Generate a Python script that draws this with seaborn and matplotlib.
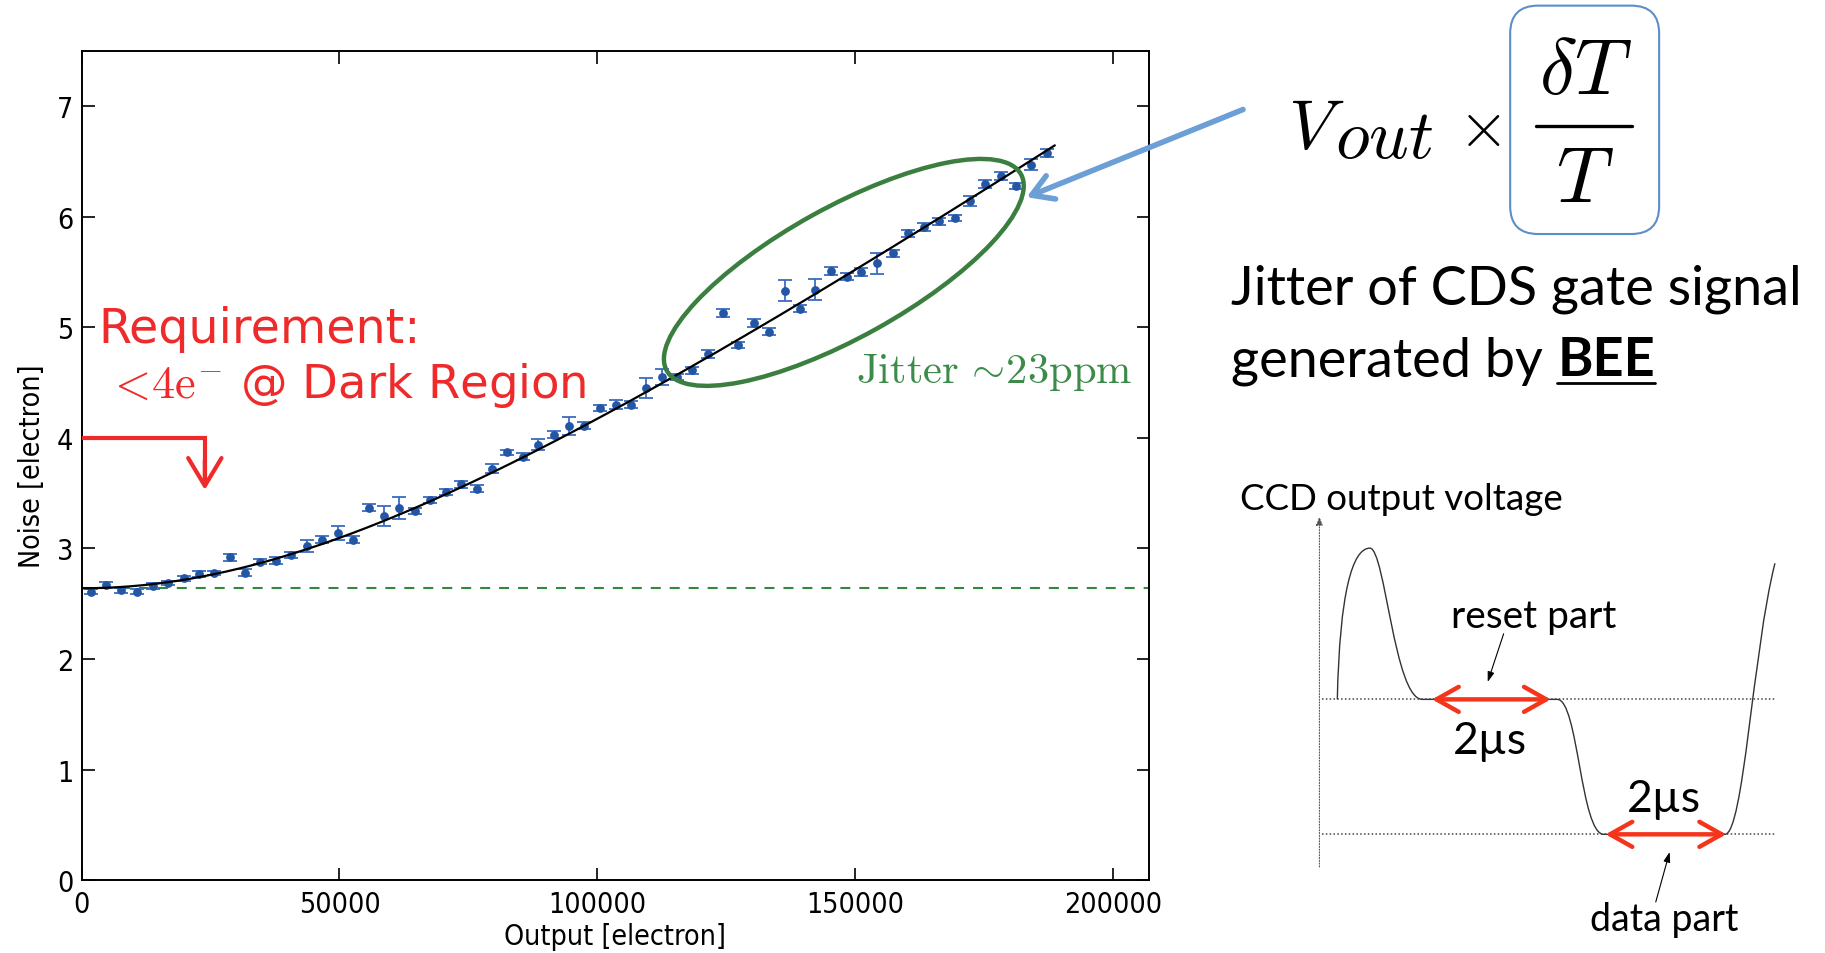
import numpy as np
import pandas as pd
import matplotlib
matplotlib.use("Agg")
import matplotlib.pyplot as plt
import seaborn as sns
from matplotlib.patches import Ellipse, FancyBboxPatch, PathPatch
from matplotlib.path import Path
from matplotlib.font_manager import FontProperties

# ---------------- data ----------------
output_e = [1785, 4770, 7730, 10710, 13760, 16750, 19780, 22760, 25670, 28770,
            31750, 34670, 37650, 40630, 43730, 46710, 49700, 52660, 55640, 58620,
            61590, 64640, 67550, 70650, 73500, 76610, 79600, 82560, 85540, 88500,
            91510, 94520, 97430, 100480, 103530, 106500, 109470, 112520, 115500, 118320,
            121400, 124270, 127270, 130330, 133300, 136350, 139320, 142230, 145340, 148390,
            151170, 154270, 157320, 160230, 163270, 166180, 169290, 172200, 175110, 178210,
            181260, 184170, 187280]
noise_e = [2.61, 2.67, 2.62, 2.61, 2.66, 2.69, 2.73, 2.77, 2.78, 2.92,
           2.78, 2.88, 2.89, 2.94, 3.02, 3.08, 3.14, 3.08, 3.37, 3.29,
           3.37, 3.34, 3.44, 3.51, 3.58, 3.54, 3.72, 3.87, 3.83, 3.94,
           4.03, 4.11, 4.11, 4.27, 4.30, 4.30, 4.45, 4.55, 4.55, 4.61,
           4.76, 5.13, 4.84, 5.04, 4.96, 5.33, 5.17, 5.34, 5.51, 5.46,
           5.50, 5.58, 5.67, 5.85, 5.91, 5.96, 5.99, 6.14, 6.30, 6.37,
           6.28, 6.47, 6.58]
noise_err = [0.025, 0.025, 0.02, 0.025, 0.025, 0.02, 0.02, 0.025, 0.02, 0.03,
             0.03, 0.025, 0.03, 0.025, 0.055, 0.03, 0.065, 0.03, 0.03, 0.09,
             0.10, 0.03, 0.025, 0.03, 0.03, 0.03, 0.04, 0.025, 0.03, 0.05,
             0.03, 0.08, 0.03, 0.03, 0.04, 0.03, 0.09, 0.075, 0.03, 0.03,
             0.035, 0.035, 0.03, 0.04, 0.03, 0.095, 0.03, 0.095, 0.04, 0.03,
             0.035, 0.095, 0.03, 0.035, 0.035, 0.03, 0.03, 0.045, 0.035, 0.035,
             0.03, 0.05, 0.035]
x_ticks = [0, 50000, 100000, 150000, 200000]
x_tick_labels = ["0", "50000", "100000", "150000", "200000"]
y_ticks = [0, 1, 2, 3, 4, 5, 6, 7]
y_tick_labels = ["0", "1", "2", "3", "4", "5", "6", "7"]
noise_floor = 2.64
requirement_level = 4.0
requirement_arrow_x = 23900
requirement_arrow_end = 3.53
fit_x_end = 188700

BLUE = "#2456a6"
EBLUE = "#3a6cc0"
GREEN_E = "#3a7f3f"
GREEN_T = "#3d8b4a"
GREEN_D = "#2f8a3c"
RED = "#ee2a2a"
ARROW_RED = "#f5341c"
LBLUE = "#6b9fd5"

# ---------------- style ----------------
sns.set_theme(style="ticks", rc={
    "axes.edgecolor": "black", "xtick.color": "black", "ytick.color": "black",
    "axes.labelcolor": "black", "text.color": "black",
})
plt.rcParams["font.family"] = ["DejaVu Sans"]
plt.rcParams["mathtext.fontset"] = "cm"

fp_axis = FontProperties(family="DejaVu Sans", stretch="condensed", size=20.5)

fig = plt.figure(figsize=(18.25, 9.54), dpi=100)
ax = fig.add_axes([0.0447, 0.0764, 0.5850, 0.8691])

df = pd.DataFrame({"output": output_e, "noise": noise_e, "err": noise_err})

ax.errorbar(df["output"], df["noise"], yerr=df["err"], fmt="none", ecolor=EBLUE,
            elinewidth=1.3, capsize=5, capthick=1.3, zorder=3)
sns.scatterplot(data=df, x="output", y="noise", ax=ax, color=BLUE, s=40,
                edgecolor=BLUE, linewidth=0, zorder=4, legend=False)

# fit: noise^2 = floor^2 + b * output^2 (least squares for b on the data)
X = np.asarray(output_e, float)
Y = np.asarray(noise_e, float)
b_fit = np.sum((Y ** 2 - noise_floor ** 2) * X ** 2) / np.sum(X ** 4)
xf = np.linspace(0, fit_x_end, 400)
yf = np.sqrt(noise_floor ** 2 + b_fit * xf ** 2)
sns.lineplot(x=xf, y=yf, ax=ax, color="black", linewidth=1.6, zorder=5)

ax.axhline(noise_floor, color=GREEN_D, linewidth=1.5, linestyle=(0, (4.8, 4.3)), zorder=2)

# requirement arrow
ax.plot([0, requirement_arrow_x, requirement_arrow_x],
        [requirement_level, requirement_level, requirement_arrow_end + 0.05],
        color=RED, linewidth=3, solid_joinstyle="miter", solid_capstyle="butt", zorder=6)
ax.annotate("", xy=(requirement_arrow_x, requirement_arrow_end),
            xytext=(requirement_arrow_x, requirement_level - 0.2),
            arrowprops=dict(arrowstyle="->,head_length=1.0,head_width=0.6", color=RED,
                            lw=3, shrinkA=0, shrinkB=0, mutation_scale=20), zorder=6)

ax.set_xlim(0, 207000)
ax.set_ylim(0, 7.5)
ax.set_xticks(x_ticks, labels=x_tick_labels, fontproperties=fp_axis)
ax.set_yticks(y_ticks, labels=y_tick_labels, fontproperties=fp_axis)
ax.tick_params(direction="in", length=9, width=1.2, top=True, right=True, pad=7)
ax.tick_params(axis="y", pad=6)
for s in ax.spines.values():
    s.set_linewidth(1.4)
    s.set_color("black")
ax.set_xlabel("Output [electron]", fontproperties=fp_axis, labelpad=3)
ax.set_ylabel("Noise [electron]", fontproperties=fp_axis, labelpad=8)

# ---------------- overlay in reference-pixel space (1568 x 820) ----------------
ov = fig.add_axes([0, 0, 1, 1], zorder=10)
ov.set_xlim(0, 1568)
ov.set_ylim(820, 0)
ov.set_axis_off()
ov.patch.set_alpha(0)

ov.text(84.5, 295, "Requirement:", fontsize=34.3, color=RED, va="baseline", ha="left")
ov.text(91, 342.2, r"${<}\!4\mathrm{e}^{-}$ @ Dark Region", fontsize=33.5, color=RED,
        va="baseline", ha="left")
ov.text(735.5, 329.3, r"$\mathrm{Jitter}\,\sim\!23\mathrm{ppm}$", fontsize=30.6,
        color=GREEN_T, va="baseline", ha="left")

ov.add_patch(Ellipse((725, 235), 348, 112, angle=-29, fill=False,
                     edgecolor=GREEN_E, linewidth=3.2))

ov.annotate("", xy=(882, 170.4), xytext=(1068, 95),
            arrowprops=dict(arrowstyle="->,head_length=0.75,head_width=0.45", color=LBLUE,
                            lw=4, shrinkA=0, shrinkB=0, mutation_scale=20))

# formula
ov.text(1107, 127.4, r"$V$", fontsize=51, va="baseline", ha="left")
ov.text(1147, 136, r"$out$", fontsize=50, va="baseline", ha="left")
ov.text(1270.5, 110, r"$\times$", fontsize=46, va="center", ha="center")
ov.add_patch(FancyBboxPatch((1297.5, 5.7), 128, 196.3,
                            boxstyle="round,pad=0,rounding_size=24",
                            facecolor="white", edgecolor="#5b8fcc", linewidth=1.5))
ov.text(1362.5, 81, r"$\delta T$", fontsize=57, va="baseline", ha="center")
ov.plot([1320, 1402.5], [108.8, 108.8], color="black", linewidth=2.4)
ov.text(1361.6, 173.3, r"$T$", fontsize=57, va="baseline", ha="center")

sans2 = ["Lato", "DejaVu Sans"]
ov.text(1058, 262, "Jitter of CDS gate signal", fontsize=38.9, family=sans2,
        va="baseline", ha="left")
t_gen = ov.text(1058, 323.6, "generated by ", fontsize=38.9, family=sans2,
                va="baseline", ha="left")
fig.canvas.draw()
r = fig.canvas.get_renderer()
bb = t_gen.get_window_extent(r).transformed(ov.transData.inverted())
x_bee = max(bb.x0, bb.x1)
t_bee = ov.text(x_bee, 323.6, "BEE", fontsize=38.9, family=sans2, fontweight="bold",
                va="baseline", ha="left")
fig.canvas.draw()
bb2 = t_bee.get_window_extent(r).transformed(ov.transData.inverted())
ov.plot([bb2.x0, bb2.x1], [330, 330], color="black", linewidth=2)

# CCD diagram
ov.text(1065, 438, "CCD output voltage", fontsize=26.5, family=sans2,
        va="baseline", ha="left")
ov.annotate("", xy=(1133.6, 445), xytext=(1133.6, 746),
            arrowprops=dict(arrowstyle="-|>,head_length=0.5,head_width=0.2", color="#555555",
                            lw=0.8, linestyle=(0, (1, 1.5)), shrinkA=0, shrinkB=0,
                            mutation_scale=10))
for yl in (602, 718):
    ov.plot([1136, 1526], [yl, yl], color="#444444", linewidth=1.1, linestyle=(0, (1, 1.5)))

verts = [(1149, 602), (1151, 510), (1162, 472), (1177, 472),
         (1190, 472), (1198, 602), (1222, 602),
         (1338, 602),
         (1356, 602), (1358, 718), (1378, 718),
         (1482, 718),
         (1498, 718), (1506, 560), (1525, 485)]
codes = [Path.MOVETO, Path.CURVE4, Path.CURVE4, Path.CURVE4,
         Path.CURVE4, Path.CURVE4, Path.CURVE4,
         Path.LINETO,
         Path.CURVE4, Path.CURVE4, Path.CURVE4,
         Path.LINETO,
         Path.CURVE4, Path.CURVE4, Path.CURVE4]
ov.add_patch(PathPatch(Path(verts, codes), fill=False, edgecolor="#333333", linewidth=1.0))

for (xa, xb, yy) in ((1230.3, 1332.4, 602), (1379.4, 1483.1, 718)):
    ov.annotate("", xy=(xb, yy), xytext=(xa, yy),
                arrowprops=dict(arrowstyle="<->,head_length=0.8,head_width=0.45",
                                color=ARROW_RED, lw=3.2, shrinkA=0, shrinkB=0,
                                mutation_scale=20))
ov.text(1280, 648, "2\u00b5s", fontsize=32, family=sans2, va="baseline", ha="center")
ov.text(1430, 698, "2\u00b5s", fontsize=32, family=sans2, va="baseline", ha="center")
ov.text(1247, 540, "reset part", fontsize=28, family=sans2, va="baseline", ha="left")
ov.text(1366, 800, "data part", fontsize=27, family=sans2, va="baseline", ha="left")
ov.annotate("", xy=(1278.2, 587), xytext=(1291.9, 545.6),
            arrowprops=dict(arrowstyle="-|>,head_length=0.6,head_width=0.2", color="black",
                            lw=0.8, shrinkA=0, shrinkB=0, mutation_scale=10))
ov.annotate("", xy=(1434.5, 733.2), xytext=(1422.6, 776.1),
            arrowprops=dict(arrowstyle="-|>,head_length=0.6,head_width=0.2", color="black",
                            lw=0.8, shrinkA=0, shrinkB=0, mutation_scale=10))

fig.savefig("out.png", dpi=100, facecolor="white")
